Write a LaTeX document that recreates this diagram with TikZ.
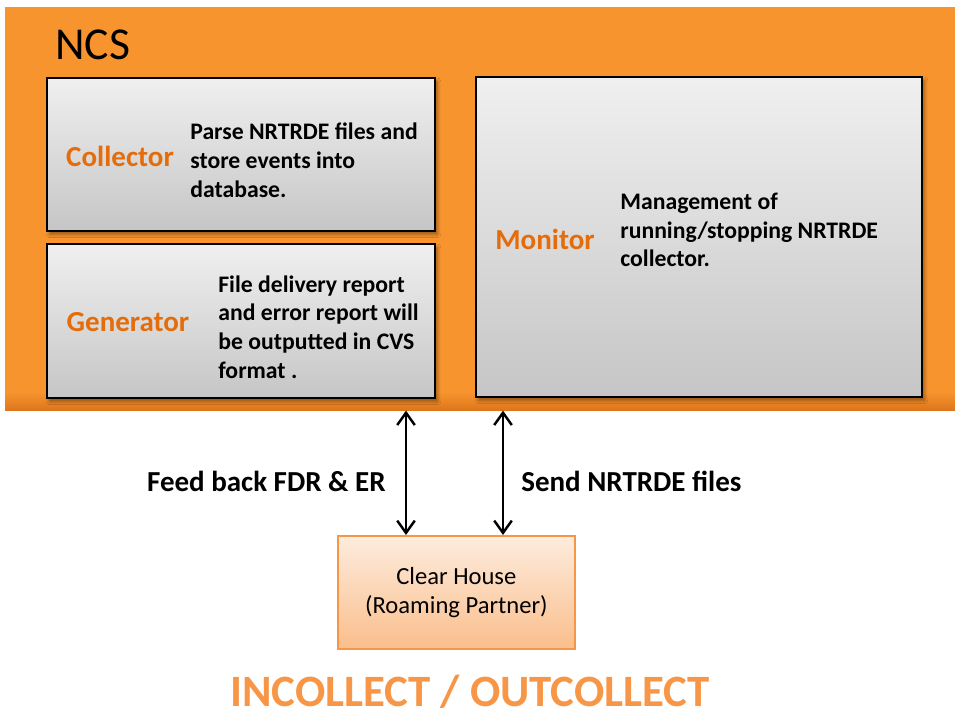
\documentclass[tikz,border=0pt]{standalone}
\usepackage{fontspec}
\setmainfont{Carlito}
\usetikzlibrary{arrows.meta,shadows.blur,positioning}

\definecolor{ncsorange}{RGB}{247,148,46}
\definecolor{ncsdark}{RGB}{222,118,28}
\definecolor{labelorange}{RGB}{228,108,10}
\definecolor{softorange}{RGB}{247,150,70}
\definecolor{peachtop}{RGB}{253,236,222}
\definecolor{peachbot}{RGB}{250,190,140}

\begin{document}
\begin{tikzpicture}[x=0.02cm, y=-0.02cm,
    panel/.style={draw=black, line width=1pt, top color=gray!12, bottom color=gray!45,
    inner sep=0pt, anchor=north west, blur shadow={shadow xshift=1.5pt, shadow yshift=-2pt}},
    partname/.style={font=\fontsize{16.5}{19}\selectfont\bfseries, text=labelorange},
    desc/.style={font=\fontsize{13.5}{16.4}\selectfont\bfseries, align=left, anchor=west, inner sep=0pt},
    flow/.style={font=\fontsize{16.5}{19}\selectfont\bfseries, inner sep=0pt},
    link/.style={{Straight Barb[length=7pt,width=10pt]}-{Straight Barb[length=7pt,width=10pt]}, line width=1.4pt}]

    \useasboundingbox (0,0) rectangle (955,717);

    % NCS frame
    \node (ncs) [fill=ncsorange, inner sep=0pt, anchor=north west,
        minimum width=19.1cm, minimum height=8.06cm] at (5,7) {};
    \shade [top color=ncsorange, bottom color=ncsdark] (5,392) rectangle (960,410);
    \node (ncstitle) [font=\fontsize{26}{30}\selectfont, anchor=west, inner sep=0pt] at (55,45) {NCS};

    % collector
    \node (collector) [panel, minimum width=7.76cm, minimum height=3.06cm] at (46,77) {};
    \node (collab) [partname] at (120,156) {Collector};
    \node (coldesc) [desc] at (190,160) {Parse NRTRDE files and\\store events into\\database.};

    % generator
    \node (generator) [panel, minimum width=7.76cm, minimum height=3.08cm] at (46,243) {};
    \node (genlab) [partname] at (128,322) {Generator};
    \node (gendesc) [desc] at (218,327) {File delivery report\\and error report will\\be outputted in CVS\\format .};

    % monitor
    \node (monitor) [panel, minimum width=8.92cm, minimum height=6.4cm] at (475,76) {};
    \node (monlab) [partname] at (545,239) {Monitor};
    \node (mondesc) [desc] at (620,230) {Management of\\running/stopping NRTRDE\\collector.};

    % clear house
    \node (clear) [draw=softorange, line width=1pt, top color=peachtop, bottom color=peachbot,
        anchor=north west, minimum width=4.74cm, minimum height=2.26cm, align=center,
        font=\fontsize{14}{16.5}\selectfont] at (337,535) {Clear House\\(Roaming Partner)};

    \coordinate (fbx) at (406,0);
    \coordinate (sdx) at (503,0);
    \draw [link] (ncs.south -| fbx) -- (clear.north -| fbx);
    \draw [link] (ncs.south -| sdx) -- (clear.north -| sdx);

    \node (fblab) [flow, anchor=east] at (386,481) {Feed back FDR \& ER};
    \node (sdlab) [flow, anchor=west] at (521,481) {Send NRTRDE files};

    \node (caption) [font=\fontsize{25.5}{30}\selectfont\bfseries, text=softorange, inner sep=0pt] at (470,692) {INCOLLECT / OUTCOLLECT};
\end{tikzpicture}
\end{document}
